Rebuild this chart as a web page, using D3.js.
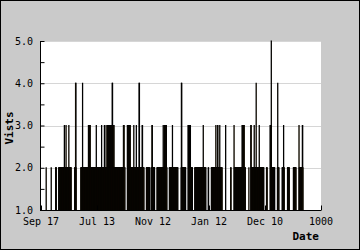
<!DOCTYPE html>
<html><head><meta charset="utf-8">
<script src="https://cdn.jsdelivr.net/npm/d3@7"></script>
<style>html,body{margin:0;padding:0;background:#fff}svg{display:block}</style>
</head><body>
<svg id="chart" width="360" height="250"></svg>
<script>
const visitRuns = [
  [1,18],[2,1],[1,17],[2,1],[1,15],[2,3],[1,8],
  [2,20],[3,1],[2,5],[3,1],[2,9],[3,1],[2,8],[1,12],
  [2,3],[4,2],[2,1],[1,16],
  [2,6],[4,1],[2,20],[3,7],[2,21],[3,1],[2,18],[3,1],[2,9],[3,1],[2,5],[3,1],[2,4],
  [3,9],[2,2],[3,6],[4,2],[3,5],[2,33],[3,3],[2,3],[1,8],
  [3,11],[2,12],[3,1],[2,8],[3,1],[2,9],[4,2],[2,9],[3,2],[2,5],[1,8],
  [2,12],[1,5],
  [2,3],[3,2],[2,8],[1,8],
  [2,22],[3,1],[2,3],[3,8],[2,2],[1,8],
  [2,11],[3,1],[2,19],[1,11],
  [2,1],[4,2],[2,14],[1,8],
  [3,3],[2,2],[3,1],[2,2],[3,1],[2,7],[1,8],
  [2,30],[3,1],[2,9],[1,8],
  [2,2],[1,9],
  [2,16],[3,1],[2,5],[3,2],[2,6],[3,1],[2,8],[1,12],
  [3,1],[1,17],[2,2],[1,10],
  [3,1],[2,28],[3,8],[2,4],[1,12],
  [2,1],[1,6],
  [3,2],[2,10],[3,1],[2,6],[4,1],[2,10],[3,1],[2,16],[1,9],
  [2,3],[1,10],
  [3,4],[5,1],[2,12],[1,9],
  [2,1],[4,1],[2,4],[1,11],
  [2,5],[3,1],[2,2],[1,11],
  [2,7],[1,14],
  [2,10],[1,10],
  [3,1],[2,11],[3,2],[2,1]
];
const xTickValues = [0, 200, 400, 600, 800, 1000];
const xTickLabels = ["Sep 17", "Jul 13", "Nov 12", "Jan 12", "Dec 10", "1000"];
const yTickValues = [1, 2, 3, 4, 5];
const yMinorTickValues = [1.5, 2.5, 3.5, 4.5];
const yGridValues = [2, 3, 4, 5];
const xTitle = "Date";
const yTitle = "Vists";

(function () {
const visits = [];
visitRuns.forEach(([v, n]) => { for (let k = 0; k < n; k++) visits.push(v); });

const W = 360, H = 250;
const pL = 41, pR = 321, pT = 41, pB = 210;
const svg = d3.select("#chart");

svg.append("rect").attr("x", 0.5).attr("y", 0.5).attr("width", W - 1).attr("height", H - 1)
  .attr("fill", "#cacaca").attr("stroke", "#000").attr("stroke-width", 1);

svg.append("rect").attr("x", pL).attr("y", pT).attr("width", pR - pL).attr("height", pB - pT)
  .attr("fill", "#fff");

const x = d3.scaleLinear().domain([0, 1000]).range([pL, pR]);
const y = d3.scaleLinear().domain([1, 5]).range([pB, pT]);

// grid
svg.append("g").selectAll("line").data(yGridValues).join("line")
  .attr("x1", pL).attr("x2", pR)
  .attr("y1", d => Math.round(y(d)) + 0.5).attr("y2", d => Math.round(y(d)) + 0.5)
  .attr("stroke", "#d6d6d6").attr("stroke-width", 1);

// bars
const bw = x(1) - x(0);
svg.append("g").selectAll("rect").data(visits.map((v, i) => ({ i, v })).filter(d => d.v > 1)).join("rect")
  .attr("x", d => x(d.i)).attr("width", bw)
  .attr("y", d => y(d.v)).attr("height", d => y(1) - y(d.v))
  .attr("fill", "#e89a00").attr("stroke", "#000").attr("stroke-width", 1);

// y axis
const yAxis = d3.axisRight(y).tickValues(yTickValues).tickSize(4).tickFormat("");
const yg = svg.append("g").attr("transform", `translate(${pL - 0.5},0)`).call(yAxis);
yg.select(".domain").remove();
yg.selectAll(".tick line").attr("stroke", "#000");
const yMinor = d3.axisRight(y).tickValues(yMinorTickValues).tickSize(4).tickFormat("");
const ym = svg.append("g").attr("transform", `translate(${pL - 0.5},0)`).call(yMinor);
ym.select(".domain").remove();
ym.selectAll(".tick line").attr("stroke", "#000");
svg.append("line").attr("x1", pL - 0.5).attr("x2", pL - 0.5).attr("y1", pT).attr("y2", pB + 0.5)
  .attr("stroke", "#000");

svg.append("g").selectAll("text").data(yTickValues).join("text")
  .attr("x", 33).attr("y", d => y(d)).attr("dy", "0.36em")
  .attr("text-anchor", "end")
  .attr("font-family", "DejaVu Sans Mono").attr("font-size", 10).attr("fill", "#000")
  .text(d => d3.format(".1f")(d));

// x axis
const xAxis = d3.axisTop(x).tickValues(xTickValues).tickSize(5).tickFormat("");
const xg = svg.append("g").attr("transform", `translate(0,${pB + 0.5})`).call(xAxis);
xg.select(".domain").remove();
xg.selectAll(".tick line").attr("stroke", "#000");
svg.append("line").attr("x1", pL - 1).attr("x2", pR).attr("y1", pB + 0.5).attr("y2", pB + 0.5)
  .attr("stroke", "#000");

svg.append("g").selectAll("text").data(xTickValues).join("text")
  .attr("x", d => x(d)).attr("y", 225)
  .attr("text-anchor", "middle")
  .attr("font-family", "DejaVu Sans Mono").attr("font-size", 10).attr("fill", "#000")
  .text((d, k) => xTickLabels[k]);

// titles
svg.append("text").attr("x", 319).attr("y", 240).attr("text-anchor", "end")
  .attr("font-family", "DejaVu Sans Mono").attr("font-weight", "bold").attr("font-size", 11)
  .text(xTitle);
svg.append("text").attr("transform", "translate(13,128) rotate(-90)").attr("text-anchor", "middle")
  .attr("font-family", "DejaVu Sans Mono").attr("font-weight", "bold").attr("font-size", 11)
  .text(yTitle);
})();
</script>
</body></html>
